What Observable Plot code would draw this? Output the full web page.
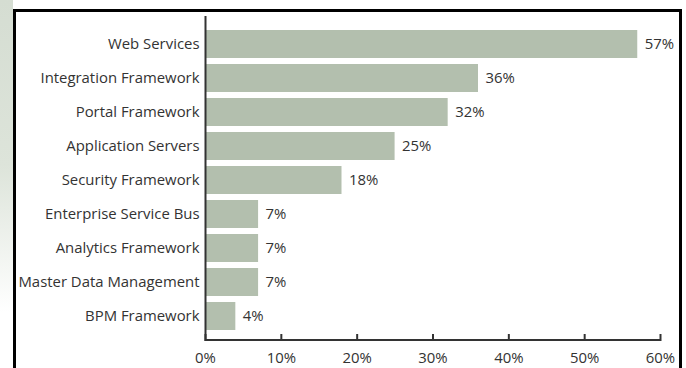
<!DOCTYPE html>
<html>
<head>
<meta charset="utf-8">
<script src="https://cdn.jsdelivr.net/npm/d3@7"></script>
<script src="https://cdn.jsdelivr.net/npm/@observablehq/plot@0.6"></script>
<style>
  html, body { margin: 0; padding: 0; background: #fff; }
  #wrap { position: relative; width: 686px; height: 368px; overflow: hidden; background: #fff; }
  #strip { position: absolute; left: 0; top: 0; width: 13px; height: 368px;
           background: linear-gradient(#d5ddd2 0%, #dde4da 45%, #ffffff 85%); }
  #border { position: absolute; left: 13px; top: 9px; width: 669px; height: 400px;
            box-sizing: border-box; border: 3px solid #000; border-bottom: none; }
  #chart { position: absolute; left: 0; top: 0; }
  svg { font-family: "Open Sans", sans-serif; }
</style>
</head>
<body>
<div id="wrap">
  <div id="strip"></div>
  <div id="border"></div>
  <div id="chart"></div>
</div>
<script>
const categories = [
  "Web Services",
  "Integration Framework",
  "Portal Framework",
  "Application Servers",
  "Security Framework",
  "Enterprise Service Bus",
  "Analytics Framework",
  "Master Data Management",
  "BPM Framework"
];
const values = [57, 36, 32, 25, 18, 7, 7, 7, 4];
const xTicks = [0, 10, 20, 30, 40, 50, 60];

const data = categories.map((c, i) => ({category: c, value: values[i]}));

const chart = Plot.plot({
  width: 686,
  height: 368,
  marginLeft: 205,
  marginRight: 26,
  marginTop: 16,
  marginBottom: 27,
  style: {background: "transparent", fontSize: "14.9px", color: "#333"},
  x: {domain: [0, 60], label: null},
  y: {domain: categories, range: [28, 331], paddingInner: 0.185, paddingOuter: 0, label: null},
  marks: [
    Plot.barX(data, {x: "value", y: "category", fill: "#b3bfae"}),
    Plot.text(data, {x: "value", y: "category", text: d => d.value + "%", dx: 7, textAnchor: "start", fill: "#333", fontSize: 14.9}),
    Plot.ruleX(xTicks, {x: d => d, insetTop: 318, stroke: "#333", strokeWidth: 2}),
    Plot.ruleX([0], {stroke: "#333", strokeWidth: 2}),
    Plot.barX([60], {x1: 0, x2: d => d, insetTop: 323, fill: "#333"}),
    Plot.axisX({ticks: xTicks, tickFormat: d => d + "%", tickSize: 0, tickPadding: 11, label: null, fontSize: 14.9}),
    Plot.axisY({tickSize: 0, tickPadding: 6, label: null, fontSize: 14.9})
  ]
});
document.getElementById("chart").appendChild(chart);
</script>
</body>
</html>
